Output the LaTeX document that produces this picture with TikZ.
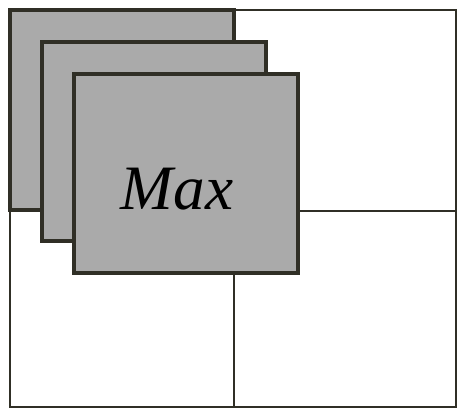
\documentclass[tikz,border=0pt]{standalone}
\usepackage{fontspec}
\setmainfont{Liberation Serif}
\definecolor{edgecol}{RGB}{48,47,38}
\definecolor{cellgray}{RGB}{170,170,170}
\begin{document}
\begin{tikzpicture}[x=0.02cm, y=-0.02cm,
    frame/.style={draw=edgecol, line width=1.6pt},
    gridline/.style={draw=edgecol, line width=0.8pt},
    window/.style={draw=edgecol, fill=cellgray, line width=2.3pt}]
            \useasboundingbox (0,0) rectangle (459,410);
            % Outer boundary and grid
            \draw[frame] (10,10) rectangle (456,407);
            \draw[gridline] (234,10) -- (234,407);
            \draw[gridline] (10,211) -- (456,211);
            % Stacked windows
            \draw[window] (10,10) rectangle (234,210);
            \draw[window] (42,42) rectangle (266,241);
            \draw[window] (74,74) rectangle (298,273);
            % Label
            \node (maxlabel) at (177,189) {\fontsize{36}{36}\selectfont\itshape Max};
        \end{tikzpicture}
\end{document}
